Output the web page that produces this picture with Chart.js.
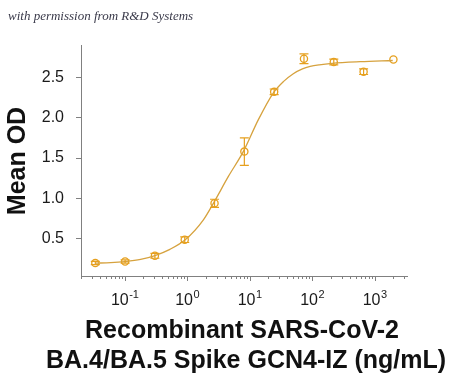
<!DOCTYPE html>
<html>
<head>
<meta charset="utf-8">
<script src="https://cdn.jsdelivr.net/npm/chart.js@4/dist/chart.umd.min.js"></script>
<style>
  html, body { margin: 0; padding: 0; background: #ffffff; }
  #wrap { width: 450px; height: 380px; position: relative; }
</style>
</head>
<body>
<div id="wrap"><canvas id="c" width="450" height="380"></canvas></div>
<script>
// ---- data ----
const doseX  = [0.0339, 0.1016, 0.3048, 0.9144, 2.743, 8.230, 24.69, 74.07, 222.2, 666.7, 2000];
const meanOD = [0.20, 0.22, 0.29, 0.49, 0.94, 1.58, 2.32, 2.73, 2.69, 2.57, 2.72];
const odErr  = [0.02, 0.02, 0.03, 0.035, 0.05, 0.17, 0.035, 0.06, 0.035, 0.035, 0.0];

// fitted curve
const fitX = [0.0339, 0.06, 0.1, 0.18, 0.305, 0.53, 0.93, 1.82, 2.64, 4.57, 7.95, 13.8, 24.0, 35, 50, 70, 93, 130, 209, 589, 1950];
const fitY = [0.199, 0.205, 0.218, 0.245, 0.293, 0.37, 0.488, 0.736, 0.943, 1.273, 1.583, 1.976, 2.308, 2.45, 2.545, 2.605, 2.635, 2.655, 2.673, 2.693, 2.708];

const yTicks = [0.5, 1.0, 1.5, 2.0, 2.5];
const xMajorExp = [-1, 0, 1, 2, 3];

const xTitle = ["Recombinant SARS-CoV-2", "BA.4/BA.5 Spike GCN4-IZ (ng/mL)"];
const yTitle = "Mean OD";
const credit = "with permission from R&D Systems";

const AXIS = '#808080';
const TEXT = '#1a1a1a';
const MARK = '#E6A01E';
const CURVE = '#D6A23E';
const SANS = '"Liberation Sans", Arial, sans-serif';

const extras = {
  id: 'extras',
  afterDatasetsDraw(chart) {
    const ctx = chart.ctx, xs = chart.scales.x, ys = chart.scales.y;
    ctx.save();
    ctx.strokeStyle = MARK;
    ctx.lineWidth = 1.2;
    for (let i = 0; i < doseX.length; i++) {
      if (!odErr[i]) continue;
      const px = xs.getPixelForValue(doseX[i]);
      const pt = ys.getPixelForValue(meanOD[i] + odErr[i]);
      const pb = ys.getPixelForValue(meanOD[i] - odErr[i]);
      ctx.beginPath();
      ctx.moveTo(px, pt); ctx.lineTo(px, pb);
      ctx.moveTo(px - 4.5, pt); ctx.lineTo(px + 4.5, pt);
      ctx.moveTo(px - 4.5, pb); ctx.lineTo(px + 4.5, pb);
      ctx.stroke();
    }
    ctx.restore();
  },
  afterDraw(chart) {
    const ctx = chart.ctx, xs = chart.scales.x;
    const bottom = chart.chartArea.bottom;
    ctx.save();
    // x ticks (major + minor)
    ctx.strokeStyle = AXIS;
    ctx.lineWidth = 1;
    for (let e = -2; e <= 3; e++) {
      for (let m = 1; m <= 9; m++) {
        const v = m * Math.pow(10, e);
        if (v < xs.min - 1e-9 || v > xs.max) continue;
        const px = Math.round(xs.getPixelForValue(v)) + 0.5;
        const len = m === 1 ? 5 : 3;
        ctx.beginPath();
        ctx.moveTo(px, bottom);
        ctx.lineTo(px, bottom + len);
        ctx.stroke();
      }
    }
    // x tick labels with superscripts
    ctx.fillStyle = TEXT;
    ctx.textBaseline = 'alphabetic';
    ctx.textAlign = 'left';
    const baseFont = '16px ' + SANS, expFont = '11px ' + SANS;
    xMajorExp.forEach(k => {
      const px = xs.getPixelForValue(Math.pow(10, k));
      ctx.font = baseFont;
      const wb = ctx.measureText('10').width;
      ctx.font = expFont;
      const es = String(k);
      const we = ctx.measureText(es).width;
      const x0 = px - (wb + we) / 2;
      ctx.font = baseFont;
      ctx.fillText('10', x0, 305);
      ctx.font = expFont;
      ctx.fillText(es, x0 + wb + 0.5, 298);
    });
    // x title
    ctx.font = 'bold 25px ' + SANS;
    ctx.textAlign = 'center';
    ctx.fillStyle = '#111111';
    ctx.fillText(xTitle[0], 242, 338);
    ctx.fillText(xTitle[1], 246, 368);
    // y title
    ctx.save();
    ctx.translate(25, 161);
    ctx.rotate(-Math.PI / 2);
    ctx.fillText(yTitle, 0, 0);
    ctx.restore();
    // credit line
    ctx.font = 'italic 13px "Liberation Serif", "DejaVu Serif", serif';
    ctx.textAlign = 'left';
    ctx.fillStyle = '#3a3a4a';
    ctx.fillText(credit, 8, 20);
    ctx.restore();
  }
};

new Chart(document.getElementById('c'), {
  type: 'scatter',
  data: {
    datasets: [
      {
        label: 'fit',
        data: fitX.map((x, i) => ({ x: x, y: fitY[i] })),
        showLine: true,
        borderColor: CURVE,
        borderWidth: 1.3,
        pointRadius: 0,
        cubicInterpolationMode: 'monotone',
        fill: false
      },
      {
        label: 'Mean OD',
        data: doseX.map((x, i) => ({ x: x, y: meanOD[i] })),
        showLine: false,
        pointStyle: 'circle',
        pointRadius: 3.6,
        pointBorderWidth: 1.3,
        pointBorderColor: MARK,
        pointBackgroundColor: 'rgba(255,255,255,0)'
      }
    ]
  },
  options: {
    responsive: false,
    animation: false,
    events: [],
    layout: { padding: { left: 0, right: 43, top: 45, bottom: 0 } },
    plugins: { legend: { display: false }, tooltip: { enabled: false } },
    scales: {
      x: {
        type: 'logarithmic',
        min: 0.02,
        max: 3300,
        ticks: { display: false },
        grid: { display: false },
        border: { display: true, color: AXIS, width: 1 },
        afterFit(s) { s.height = 104; }
      },
      y: {
        type: 'linear',
        min: 0.04,
        max: 2.9,
        afterBuildTicks(s) { s.ticks = yTicks.map(v => ({ value: v })); },
        ticks: {
          font: { size: 16, family: SANS },
          color: TEXT,
          padding: 12,
          callback: v => Number(v).toFixed(1)
        },
        grid: { display: true, drawOnChartArea: false, drawTicks: true, tickLength: 5, color: AXIS },
        border: { display: true, color: AXIS, width: 1 },
        afterFit(s) { s.width = 81; }
      }
    }
  },
  plugins: [extras]
});
</script>
</body>
</html>
